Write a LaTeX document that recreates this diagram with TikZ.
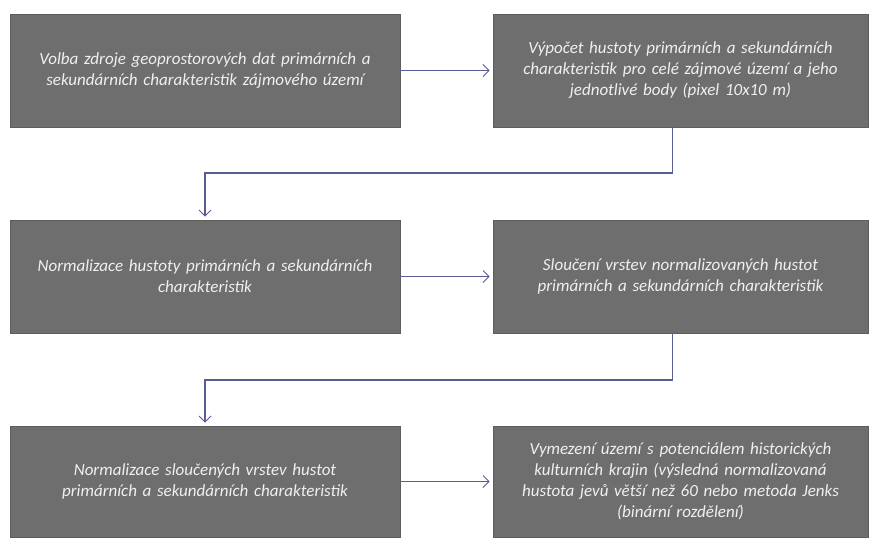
\documentclass[tikz,border=0pt]{standalone}
\usepackage{fontspec}
\setmainfont{Carlito}
\usetikzlibrary{arrows.meta}
\definecolor{boxgray}{HTML}{6E6E6E}
\definecolor{txtgray}{HTML}{F0F0F0}
\definecolor{connblue}{HTML}{5A5C96}
\tikzset{
  stepbox/.style={draw=boxgray!85!black, line width=0.6pt, fill=boxgray, text=txtgray,
    minimum height=113pt, align=center, inner sep=0pt,
    font=\fontsize{17}{21}\selectfont\itshape},
  conn/.style={draw=connblue, line width=1.1pt, shorten >=3pt, -{Straight Barb[length=6pt,width=12pt,line width=1pt]}}
}
\begin{document}
\begin{tikzpicture}[x=1pt,y=-1pt]
\useasboundingbox (0,0) rectangle (878,538);
\node[stepbox, minimum width=390pt, text width=380pt] (b1) at (205,70.5)
  {Volba zdroje geoprostorových dat primárních a\\ sekundárních charakteristik zájmového území};
\node[stepbox, minimum width=375pt, text width=365pt] (b2) at (680.5,70.5)
  {Výpočet hustoty primárních a sekundárních\\ charakteristik pro celé zájmové území a jeho\\ jednotlivé body (pixel 10x10 m)};
\node[stepbox, minimum width=390pt, text width=380pt] (b3) at (205,276.5)
  {Normalizace hustoty primárních a sekundárních\\ charakteristik};
\node[stepbox, minimum width=375pt, text width=365pt] (b4) at (680.5,276.5)
  {Sloučení vrstev normalizovaných hustot\\ primárních a sekundárních charakteristik};
\node[stepbox, minimum width=390pt, text width=380pt, minimum height=111pt] (b5) at (205,481.5)
  {Normalizace sloučených vrstev hustot\\ primárních a sekundárních charakteristik};
\node[stepbox, minimum width=375pt, text width=365pt, minimum height=111pt] (b6) at (680.5,481.5)
  {Vymezení území s potenciálem historických\\ kulturních krajin (výsledná normalizovaná\\ hustota jevů větší než 60 nebo metoda Jenks\\ (binární rozdělení)};
\coordinate (c1) at (205,173);
\coordinate (c2) at (205,380);
\draw[conn] (b1.east) -- (b2.west);
\draw[conn] (b3.east) -- (b4.west);
\draw[conn] (b5.east) -- (b6.west);
\draw[conn] ([xshift=-8pt]b2.south) |- (c1) -- (b3.north);
\draw[conn] ([xshift=-8pt]b4.south) |- (c2) -- (b5.north);
\end{tikzpicture}
\end{document}
